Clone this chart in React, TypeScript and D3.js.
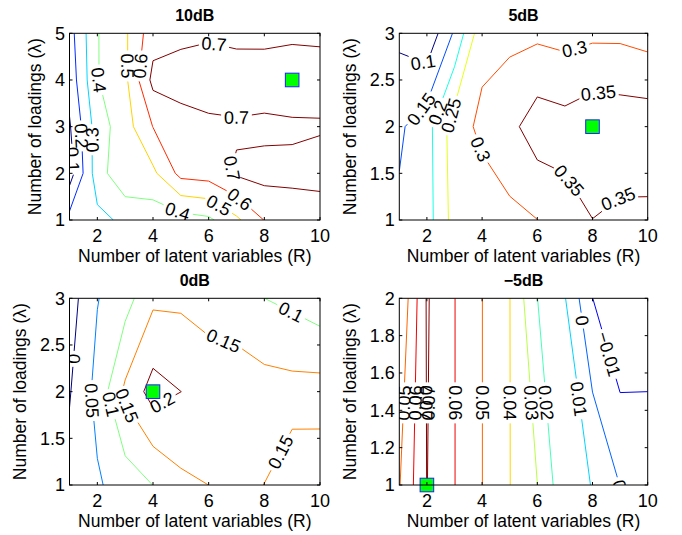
import React from 'react';
import * as d3 from 'd3';

type Pt = [number, number];

const rValues = [1, 2, 3, 4, 5, 6, 7, 8, 9, 10];
const xTicks = [2, 4, 6, 8, 10];
const titles = ['10dB', '5dB', '0dB', '\u22125dB'];

const lambda10 = [1, 2, 3, 4, 5];
const lambda5 = [1, 2, 3];
const lambda0 = [1, 2, 3];
const lambdaM5 = [1, 2];

const yTicks10 = [1, 2, 3, 4, 5];
const yTicks5 = [1, 1.5, 2, 2.5, 3];
const yTicks0 = [1, 1.5, 2, 2.5, 3];
const yTicksM5 = [1, 1.2, 1.4, 1.6, 1.8, 2];

// score grid, one row per number of loadings, one column per R
const score10 = [
  [0.2346, 0.273, 0.32, 0.34, 0.357, 0.38, 0.48, 0.603, 0.64, 0.612],
  [0.052, 0.355, 0.48, 0.479, 0.63, 0.644, 0.714, 0.735, 0.728, 0.756],
  [0.09, 0.35, 0.457, 0.602, 0.66, 0.68, 0.686, 0.6755, 0.6825, 0.6868],
  [0.135, 0.395, 0.478, 0.728, 0.74, 0.75, 0.755, 0.76, 0.77, 0.76],
  [0.16, 0.395, 0.484, 0.66, 0.679, 0.6875, 0.672, 0.669, 0.678, 0.6755],
];
const score5 = [
  [0.159, 0.179, 0.27, 0.273, 0.288, 0.2995, 0.331, 0.3495, 0.34, 0.34],
  [0.1418, 0.1808, 0.277, 0.311, 0.335, 0.378, 0.369, 0.385, 0.381, 0.38],
  [0.089, 0.061, 0.157, 0.285, 0.288, 0.29, 0.283, 0.29, 0.29, 0.28],
];
const score0 = [
  [0.0166, 0.044, 0.0727, 0.1005, 0.139, 0.1501, 0.16, 0.1496, 0.124, 0.12],
  [-0.0034, 0.065, 0.16, 0.22, 0.2002, 0.1875, 0.185, 0.1705, 0.1675, 0.17],
  [-0.0225, 0.0479, 0.0803, 0.14, 0.1404, 0.125, 0.115, 0.1001, 0.0881, 0.07],
];
const scoreM5 = [
  [0.0494, 0.0702, 0.0602, 0.0501, 0.0402, 0.0301, 0.0125, 0.0098, -0.0002, -0.005],
  [0.0401, 0.0709, 0.0602, 0.0501, 0.0402, 0.0201, 0.0105, -0.0099, -0.02, -0.015],
];

const levels10 = [0.1, 0.2, 0.3, 0.4, 0.5, 0.6, 0.7];
const levels5 = [0.1, 0.15, 0.2, 0.25, 0.3, 0.35];
const levels0 = [0, 0.05, 0.1, 0.15, 0.2];
const levelsM5 = [-0.01, 0, 0.01, 0.02, 0.03, 0.04, 0.05, 0.06, 0.07];

const colorRange10 = [0.1, 0.7];
const colorRange5 = [0.1, 0.35];
const colorRange0 = [0, 0.2];
const colorRangeM5 = [-0.02, 0.07];

// best (R, lambda) for each SNR
const best10 = [9, 4];
const best5 = [8, 2];
const best0 = [4, 2];
const bestM5 = [2, 1];

// contour label spots, in (R, lambda)
const labels10 = [
  { v: 0.7, r: 6.2, l: 4.8 }, { v: 0.7, r: 7.0, l: 3.2 }, { v: 0.7, r: 6.9, l: 2.1 },
  { v: 0.6, r: 7.13, l: 1.46 }, { v: 0.5, r: 6.35, l: 1.3 }, { v: 0.4, r: 4.85, l: 1.14 },
  { v: 0.5, r: 3.05, l: 4.3 }, { v: 0.6, r: 3.55, l: 4.3 }, { v: 0.4, r: 1.95, l: 4.0 },
  { v: 0.3, r: 1.8, l: 2.72, flip: true }, { v: 0.2, r: 1.35, l: 2.8 }, { v: 0.1, r: 1.12, l: 2.3 },
];
const labels5 = [
  { v: 0.1, r: 1.9, l: 2.72 }, { v: 0.15, r: 1.75, l: 2.2 }, { v: 0.2, r: 2.4, l: 2.15 },
  { v: 0.25, r: 2.87, l: 2.12 }, { v: 0.3, r: 3.85, l: 1.75 }, { v: 0.3, r: 7.35, l: 2.83 },
  { v: 0.35, r: 8.2, l: 2.33 }, { v: 0.35, r: 7.3, l: 1.45 }, { v: 0.35, r: 8.95, l: 1.22 },
];
const labels0 = [
  { v: 0, r: 1.2, l: 2.35 }, { v: 0.05, r: 1.65, l: 1.9 }, { v: 0.1, r: 2.3, l: 1.85 },
  { v: 0.15, r: 3.05, l: 1.85 }, { v: 0.2, r: 4.3, l: 1.9 }, { v: 0.15, r: 6.6, l: 2.6 },
  { v: 0.1, r: 8.9, l: 2.82 }, { v: 0.15, r: 8.6, l: 1.35 },
];
const labelsM5 = [
  { v: 0.05, r: 1.15, l: 1.44 }, { v: 0.06, r: 1.55, l: 1.44 }, { v: 0.07, r: 1.99, l: 1.44 },
  { v: 0.07, r: 2.03, l: 1.44 }, { v: 0.06, r: 3, l: 1.44 }, { v: 0.05, r: 4, l: 1.44 },
  { v: 0.04, r: 5, l: 1.44 }, { v: 0.03, r: 5.72, l: 1.44 }, { v: 0.02, r: 6.25, l: 1.44 },
  { v: 0.01, r: 7.45, l: 1.46 }, { v: 0, r: 7.6, l: 1.88 }, { v: -0.01, r: 8.55, l: 1.7 },
  { v: 0, r: 8.97, l: 1.0 },
];

const panels = [
  { title: titles[0], lam: lambda10, z: score10, levels: levels10, crange: colorRange10, best: best10, yTicks: yTicks10, labels: labels10, col: 0, row: 0 },
  { title: titles[1], lam: lambda5, z: score5, levels: levels5, crange: colorRange5, best: best5, yTicks: yTicks5, labels: labels5, col: 1, row: 0 },
  { title: titles[2], lam: lambda0, z: score0, levels: levels0, crange: colorRange0, best: best0, yTicks: yTicks0, labels: labels0, col: 0, row: 1 },
  { title: titles[3], lam: lambdaM5, z: scoreM5, levels: levelsM5, crange: colorRangeM5, best: bestM5, yTicks: yTicksM5, labels: labelsM5, col: 1, row: 1 },
];

const colX = [[69.5, 320], [399.3, 647.7]];
const rowY = [[33.3, 220], [298.3, 485]];
const FONT = '"Liberation Sans", Arial, Helvetica, sans-serif';
const FS = 18; // ticks and contour labels
const FS_AXIS = 17.5;

const jet = (t: number) => {
  const c = (v: number) => Math.max(0, Math.min(1, v));
  return d3.rgb(c(1.5 - Math.abs(4 * t - 3)) * 255, c(1.5 - Math.abs(4 * t - 2)) * 255, c(1.5 - Math.abs(4 * t - 1)) * 255).formatHex();
};

const fmt = (v: number) => String(+v.toFixed(2)).replace('-', '\u2212');
const textW = (s: string, fs: number) =>
  [...s].reduce((a, ch) => a + (ch === '.' ? 0.278 : ch === '\u2212' ? 0.584 : 0.556), 0) * fs;

const interp = (arr: number[], g: number) => {
  const i = Math.max(0, Math.min(Math.floor(g), arr.length - 2));
  return arr[i] + (g - i) * (arr[i + 1] - arr[i]);
};

type End = { k: string; p: Pt };

// marching squares on the grid
function march(z: number[][], t: number): End[][] {
  const segs: End[][] = [];
  const cross = (a: number, b: number) => (a >= t) !== (b >= t);
  const f = (a: number, b: number) => (t - a) / (b - a);
  for (let j = 0; j < z.length - 1; j++) {
    for (let i = 0; i < z[0].length - 1; i++) {
      const v00 = z[j][i], v10 = z[j][i + 1], v01 = z[j + 1][i], v11 = z[j + 1][i + 1];
      const e: (End | null)[] = [
        cross(v00, v10) ? { k: `h${i},${j}`, p: [i + f(v00, v10), j] } : null,
        cross(v10, v11) ? { k: `v${i + 1},${j}`, p: [i + 1, j + f(v10, v11)] } : null,
        cross(v01, v11) ? { k: `h${i},${j + 1}`, p: [i + f(v01, v11), j + 1] } : null,
        cross(v00, v01) ? { k: `v${i},${j}`, p: [i, j + f(v00, v01)] } : null,
      ];
      const hit = e.map((d, n) => (d ? n : -1)).filter((n) => n >= 0);
      if (hit.length === 2) segs.push([e[hit[0]]!, e[hit[1]]!]);
      else if (hit.length === 4) {
        const c = (v00 + v10 + v01 + v11) / 4;
        if ((c >= t) === (v00 >= t)) {
          segs.push([e[0]!, e[1]!], [e[2]!, e[3]!]);
        } else {
          segs.push([e[0]!, e[3]!], [e[1]!, e[2]!]);
        }
      }
    }
  }
  return segs;
}

function chain(segs: End[][]): Pt[][] {
  const byKey = new Map<string, number[]>();
  segs.forEach((s, n) => s.forEach((end) => {
    if (!byKey.has(end.k)) byKey.set(end.k, []);
    byKey.get(end.k)!.push(n);
  }));
  const deg = (k: string) => byKey.get(k)!.length;
  const used = segs.map(() => false);
  const order = segs.map((_, n) => n).sort((a, b) =>
    Math.min(deg(segs[a][0].k), deg(segs[a][1].k)) - Math.min(deg(segs[b][0].k), deg(segs[b][1].k)));
  const out: Pt[][] = [];
  for (const n0 of order) {
    if (used[n0]) continue;
    used[n0] = true;
    let first = segs[n0][0], last = segs[n0][1];
    if (deg(first.k) > 1 && deg(last.k) === 1) [first, last] = [last, first];
    const pts: Pt[] = [first.p, last.p];
    let key = last.k;
    for (;;) {
      const nx = byKey.get(key)!.find((m) => !used[m]);
      if (nx === undefined) break;
      used[nx] = true;
      const other = segs[nx][0].k === key ? segs[nx][1] : segs[nx][0];
      pts.push(other.p);
      key = other.k;
    }
    key = first.k;
    for (;;) {
      const nx = byKey.get(key)!.find((m) => !used[m]);
      if (nx === undefined) break;
      used[nx] = true;
      const other = segs[nx][0].k === key ? segs[nx][1] : segs[nx][0];
      pts.unshift(other.p);
      key = other.k;
    }
    out.push(pts);
  }
  return out;
}

const cumLen = (pl: Pt[]) => {
  const c = [0];
  for (let k = 1; k < pl.length; k++) c.push(c[k - 1] + Math.hypot(pl[k][0] - pl[k - 1][0], pl[k][1] - pl[k - 1][1]));
  return c;
};
const pointAt = (pl: Pt[], c: number[], s: number): Pt => {
  const L = c[c.length - 1];
  s = Math.max(0, Math.min(L, s));
  let k = 0;
  while (k < c.length - 2 && c[k + 1] < s) k++;
  const seg = c[k + 1] - c[k] || 1;
  const u = (s - c[k]) / seg;
  return [pl[k][0] + u * (pl[k + 1][0] - pl[k][0]), pl[k][1] + u * (pl[k + 1][1] - pl[k][1])];
};
const subLine = (pl: Pt[], c: number[], a: number, b: number): Pt[] => {
  const pts: Pt[] = [pointAt(pl, c, a)];
  for (let k = 0; k < pl.length; k++) if (c[k] > a && c[k] < b) pts.push(pl[k]);
  pts.push(pointAt(pl, c, b));
  return pts;
};

function Panel({ p }: { p: typeof panels[number] }) {
  const [x0, x1] = colX[p.col];
  const [y0, y1] = rowY[p.row];
  const x = d3.scaleLinear().domain([1, 10]).range([x0, x1]);
  const y = d3.scaleLinear().domain([p.lam[0], p.lam[p.lam.length - 1]]).range([y1, y0]);
  const cscale = d3.scaleLinear().domain(p.crange).range([0, 1]);
  const toPx = (g: Pt): Pt => [x(interp(rValues, g[0])), y(interp(p.lam, g[1]))];
  const lineGen = d3.line();

  const contours = p.levels.map((t) => ({
    t,
    polys: chain(march(p.z, t)).map((pl) => {
      const px = pl.map(toPx);
      return { px, c: cumLen(px), gaps: [] as [number, number][] };
    }),
  }));

  const texts = p.labels.map((lb, n) => {
    const P: Pt = [x(lb.r), y(lb.l)];
    let best = { d: Infinity, poly: null as any, s: 0 };
    contours.forEach((ct) => {
      if (Math.abs(ct.t - lb.v) > 1e-9) return;
      ct.polys.forEach((poly) => {
        const pl = poly.px;
        for (let k = 0; k < pl.length - 1; k++) {
          const A = pl[k], B = pl[k + 1];
          const dx = B[0] - A[0], dy = B[1] - A[1];
          const len2 = dx * dx + dy * dy || 1;
          const u = Math.max(0, Math.min(1, ((P[0] - A[0]) * dx + (P[1] - A[1]) * dy) / len2));
          const d = Math.hypot(A[0] + u * dx - P[0], A[1] + u * dy - P[1]);
          if (d < best.d) best = { d, poly, s: poly.c[k] + u * Math.sqrt(len2) };
        }
      });
    });
    if (!best.poly) return null;
    const str = fmt(lb.v);
    const half = textW(str, FS) / 2 + 3;
    const L = best.poly.c[best.poly.c.length - 1];
    const a = Math.max(0, best.s - half), b = Math.min(L, best.s + half);
    best.poly.gaps.push([a, b]);
    const A = pointAt(best.poly.px, best.poly.c, a), B = pointAt(best.poly.px, best.poly.c, b);
    const C = pointAt(best.poly.px, best.poly.c, best.s);
    let ang = (Math.atan2(B[1] - A[1], B[0] - A[0]) * 180) / Math.PI;
    if (ang > 90) ang -= 180;
    if (ang <= -90) ang += 180;
    if ((lb as any).flip) ang += 180;
    return (
      <text key={n} transform={`translate(${C[0].toFixed(2)},${C[1].toFixed(2)}) rotate(${ang.toFixed(1)})`}
        textAnchor="middle" dy="0.36em" fontSize={FS} fill="#000">{str}</text>
    );
  });

  const clipId = `clip${p.col}${p.row}`;
  const yLabelX = x0 - 4.5 - d3.max(p.yTicks, (t) => textW(String(t), FS))! - 14;

  return (
    <g fontFamily={FONT}>
      <defs>
        <clipPath id={clipId}><rect x={x0} y={y0} width={x1 - x0} height={y1 - y0} /></clipPath>
      </defs>
      <rect x={x0} y={y0} width={x1 - x0} height={y1 - y0} fill="#fff" />
      <g clipPath={`url(#${clipId})`}>
        {contours.map((ct) => ct.polys.map((poly, m) => {
          const L = poly.c[poly.c.length - 1];
          const gaps = poly.gaps.slice().sort((g1, g2) => g1[0] - g2[0]);
          const pieces: Pt[][] = [];
          let s = 0;
          gaps.forEach(([a, b]) => {
            if (a > s) pieces.push(subLine(poly.px, poly.c, s, a));
            s = Math.max(s, b);
          });
          if (s < L) pieces.push(subLine(poly.px, poly.c, s, L));
          return pieces.map((pc, q) => (
            <path key={`${ct.t}-${m}-${q}`} d={lineGen(pc)!} fill="none" stroke={jet(cscale(ct.t))} strokeWidth={1} />
          ));
        }))}
        {texts}
      </g>
      <rect x={x(p.best[0]) - 6.8} y={y(p.best[1]) - 6.8} width={13.6} height={13.6} fill="#00ff00" stroke="#2020ff" strokeWidth={1} />
      <rect x={x0} y={y0} width={x1 - x0} height={y1 - y0} fill="none" stroke="#000" strokeWidth={1} />
      {xTicks.map((t) => (
        <g key={`x${t}`}>
          <line x1={x(t)} x2={x(t)} y1={y1} y2={y1 - 3} stroke="#000" />
          <line x1={x(t)} x2={x(t)} y1={y0} y2={y0 + 3} stroke="#000" />
          <text x={x(t)} y={y1 + 21.7} textAnchor="middle" fontSize={FS}>{t}</text>
        </g>
      ))}
      {p.yTicks.map((t) => (
        <g key={`y${t}`}>
          <line x1={x0} x2={x0 + 3} y1={y(t)} y2={y(t)} stroke="#000" />
          <line x1={x1} x2={x1 - 3} y1={y(t)} y2={y(t)} stroke="#000" />
          <text x={x0 - 4.5} y={y(t)} dy="0.36em" textAnchor="end" fontSize={FS}>{t}</text>
        </g>
      ))}
      <text x={(x0 + x1) / 2} y={y1 + 42} textAnchor="middle" fontSize={FS_AXIS}>Number of latent variables (R)</text>
      <text transform={`translate(${yLabelX},${(y0 + y1) / 2}) rotate(-90)`} textAnchor="middle" fontSize={FS_AXIS}>Number of loadings (&#955;)</text>
      <text x={(x0 + x1) / 2} y={y0 - 12.5} textAnchor="middle" fontSize={16} fontWeight="bold">{p.title}</text>
    </g>
  );
}

export default function App() {
  return (
    <svg width={682} height={535} style={{ position: 'absolute', left: 0, top: 0, background: '#fff' }}>
      {panels.map((p, i) => <Panel key={i} p={p} />)}
    </svg>
  );
}
